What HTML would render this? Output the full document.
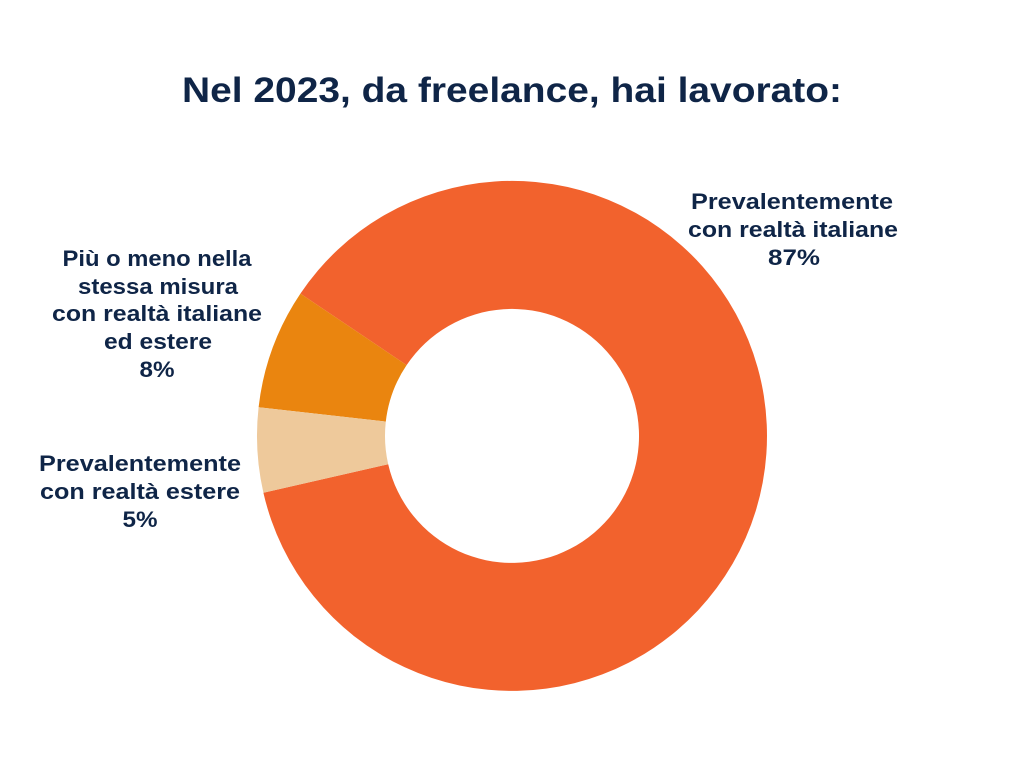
<!DOCTYPE html>
<html><head><meta charset="utf-8"><style>
body{margin:0;background:#fff;}
svg{display:block}
text{font-family:"Liberation Sans",sans-serif;font-weight:bold;fill:#0f2547;text-anchor:middle}
</style></head><body>
<svg width="1024" height="768" viewBox="0 0 1024 768">
<rect width="1024" height="768" fill="#fff"/>
<text x="512" y="102" font-size="35" textLength="660" lengthAdjust="spacingAndGlyphs">Nel 2023, da freelance, hai lavorato:</text>
<path d="M300.4,293.6 A255,255 0 1 1 263.4,492.7 L388.2,464.2 A127,127 0 1 0 406.6,365.1 Z" fill="#f2622d"/>
<path d="M258.6,407.2 A255,255 0 0 1 300.4,293.6 L406.6,365.1 A127,127 0 0 0 385.8,421.6 Z" fill="#ea850f"/>
<path d="M263.4,492.7 A255,255 0 0 1 258.6,407.2 L385.8,421.6 A127,127 0 0 0 388.2,464.2 Z" fill="#eec99b"/>
<g font-size="22" lengthAdjust="spacingAndGlyphs">
<text x="792" y="209" textLength="202" lengthAdjust="spacingAndGlyphs">Prevalentemente</text>
<text x="793" y="237" textLength="210" lengthAdjust="spacingAndGlyphs">con realtà italiane</text>
<text x="794" y="265" textLength="52" lengthAdjust="spacingAndGlyphs">87%</text>
<text x="157" y="266" textLength="189" lengthAdjust="spacingAndGlyphs">Più o meno nella</text>
<text x="158" y="294" textLength="160" lengthAdjust="spacingAndGlyphs">stessa misura</text>
<text x="157" y="321" textLength="210" lengthAdjust="spacingAndGlyphs">con realtà italiane</text>
<text x="158" y="349" textLength="108" lengthAdjust="spacingAndGlyphs">ed estere</text>
<text x="157" y="377" textLength="35" lengthAdjust="spacingAndGlyphs">8%</text>
<text x="140" y="471" textLength="202" lengthAdjust="spacingAndGlyphs">Prevalentemente</text>
<text x="140" y="499" textLength="200" lengthAdjust="spacingAndGlyphs">con realtà estere</text>
<text x="140" y="527" textLength="35" lengthAdjust="spacingAndGlyphs">5%</text>
</g>
</svg>
</body></html>
